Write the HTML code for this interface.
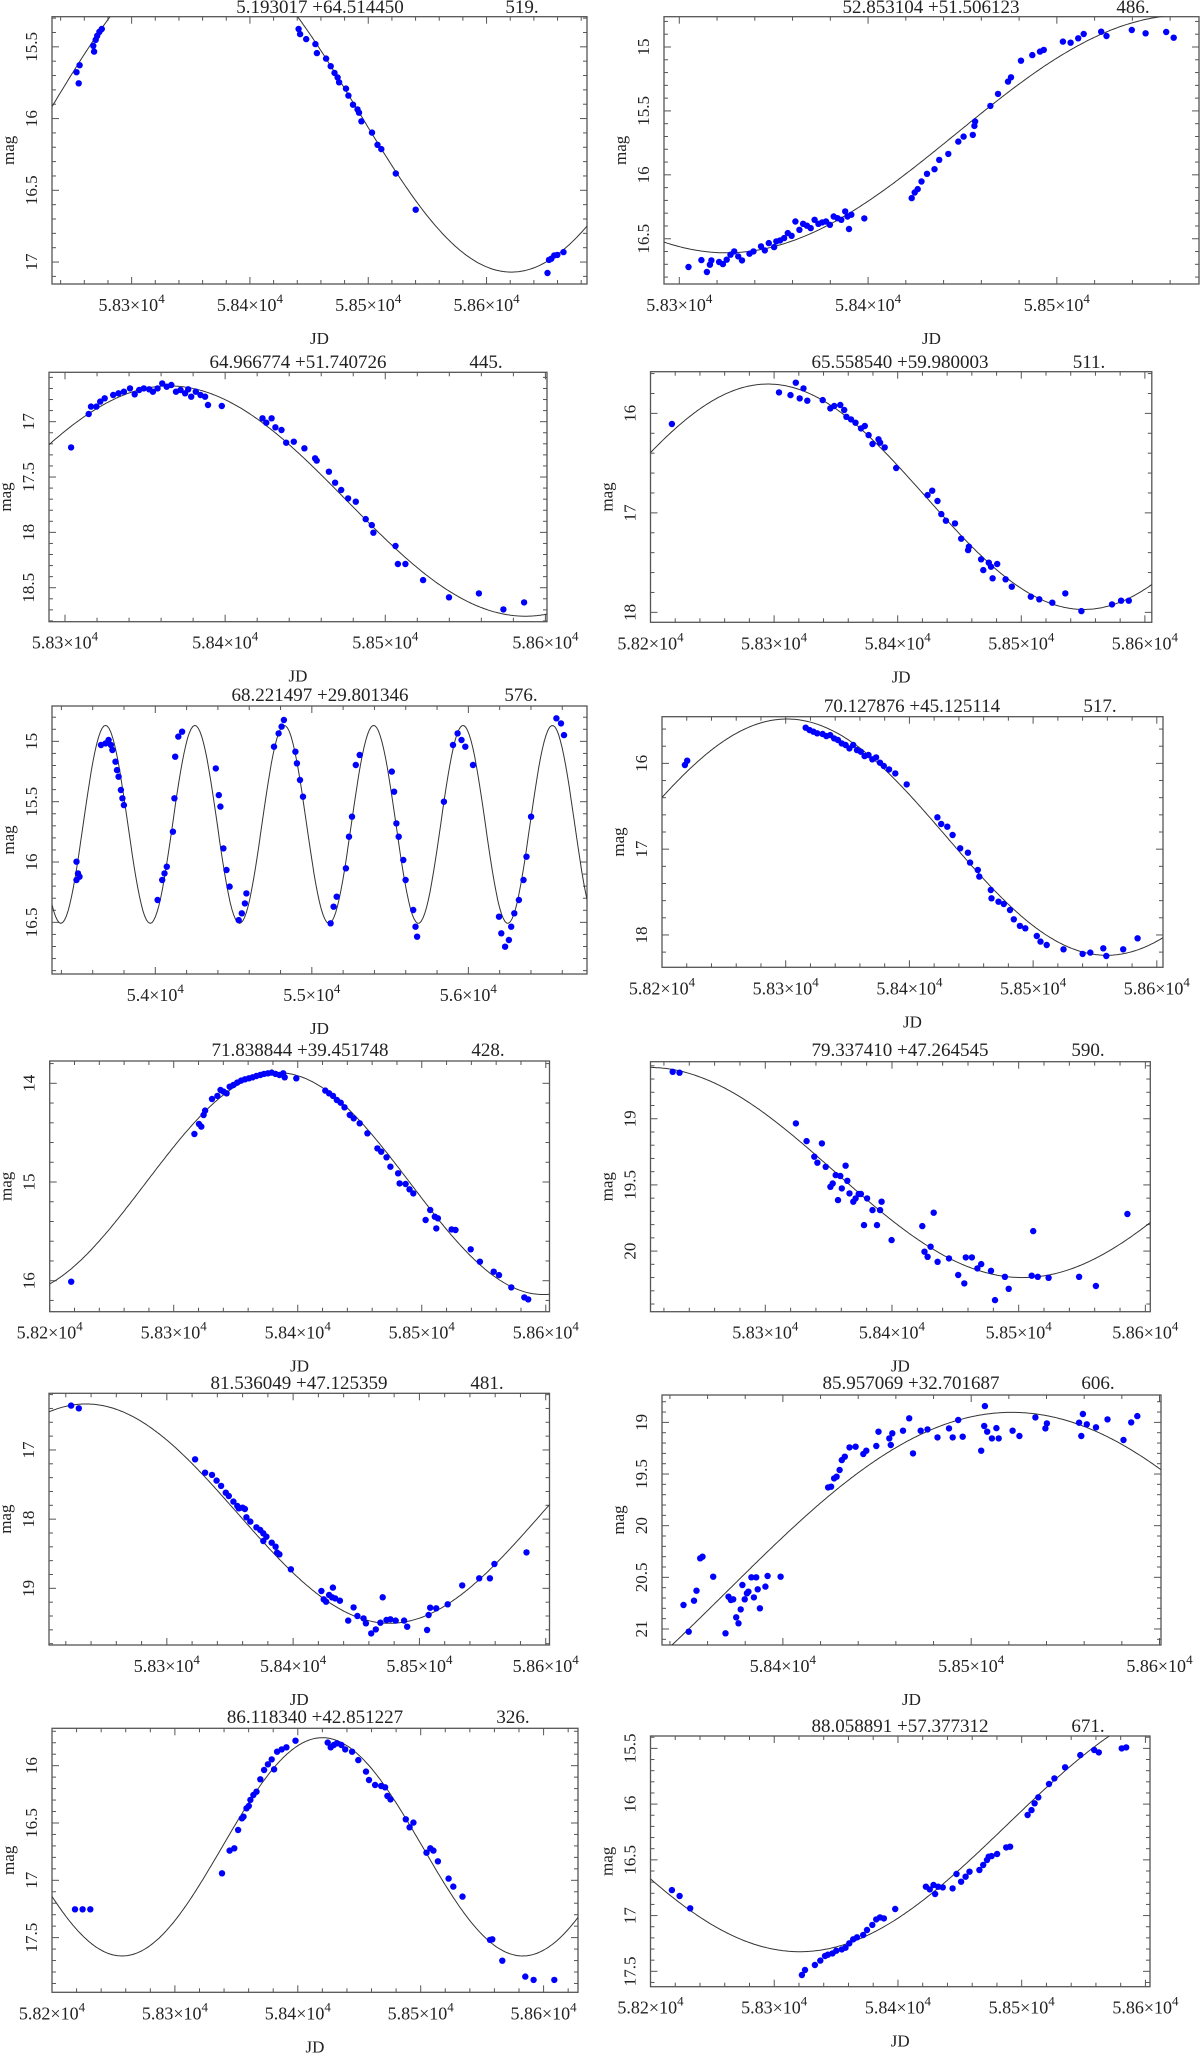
<!DOCTYPE html>
<html><head><meta charset="utf-8"><title>Light curves</title>
<style>
html,body{margin:0;padding:0;background:#fff;}
svg{display:block;font-family:"Liberation Serif","DejaVu Serif",serif;}
</style></head>
<body>
<svg id="chart" width="1200" height="2055" viewBox="0 0 1200 2055" xmlns="http://www.w3.org/2000/svg"></svg>
<script>
// ---- data (JD, mag) per panel ----
const p1jd=[58253.4,58256,58255.3,58267.6,58268.3,58269.6,58270.9,58272.8,58274.8,58441.1,58442.4,58447.6,58455.3,58456.6,58464.4,58468.3,58471.5,58474.1,58475.4,58481.2,58483.2,58487.1,58490.9,58492.2,58494.2,58503.2,58507.8,58511,58523.3,58540.1,58651.5,58652.8,58654.7,58657.3,58659.9,58665];
const p1mag=[15.677,15.628,15.754,15.493,15.533,15.451,15.423,15.395,15.376,15.376,15.411,15.446,15.481,15.544,15.582,15.635,15.682,15.714,15.747,15.791,15.840,15.903,15.936,15.959,16.019,16.098,16.183,16.213,16.383,16.635,17.076,16.985,16.977,16.954,16.95,16.931];
const p2jd=[58304.9,58311.7,58314.6,58316.2,58317,58321.1,58323.1,58325.1,58327.1,58329.1,58331.2,58333.2,58337.2,58339.3,58343.3,58345.3,58347.4,58350.2,58351.4,58353.4,58355.5,58357.5,58359.5,58361.5,58363.6,58365.6,58367.6,58369.6,58371.7,58373.7,58375.7,58377.7,58379.8,58381.8,58383.8,58385.8,58387.9,58389.1,58389.9,58391.1,58398,58423.1,58424.7,58426.3,58428.3,58431.2,58435.2,58437.7,58442.5,58447.8,58450.6,58455.5,58456.3,58456.7,58464.8,58468.8,58474.1,58475.7,58481,58487,58491.1,58493.1,58503.2,58507.3,58511.3,58514.2,58523.5,58526.3,58539.7,58547,58557.9,58561.9];
const p2mag=[16.721,16.667,16.76,16.703,16.669,16.682,16.698,16.664,16.625,16.599,16.638,16.669,16.617,16.599,16.56,16.591,16.534,16.565,16.521,16.513,16.495,16.456,16.477,16.365,16.43,16.383,16.398,16.417,16.352,16.383,16.372,16.365,16.391,16.326,16.339,16.352,16.286,16.326,16.424,16.312,16.341,16.182,16.138,16.112,16.052,15.992,15.956,15.883,15.836,15.74,15.701,15.688,15.617,15.583,15.461,15.367,15.271,15.237,15.107,15.063,15.036,15.023,14.958,14.966,14.932,14.898,14.88,14.914,14.867,14.893,14.883,14.927];
const p3jd=[58303.8,58314.8,58316.2,58319.6,58322,58324.8,58330.1,58333.4,58336.8,58340.6,58343.5,58346.3,58349.2,58352.6,58354.9,58357.8,58360.7,58363.5,58366.4,58369.3,58372.1,58375,58376.9,58378.8,58381.7,58384.6,58387.5,58389.3,58397.9,58423.3,58425.7,58429,58431.4,58435.2,58438.1,58442.9,58449.5,58456.2,58457.2,58464.8,58468.7,58472.5,58476.8,58481.6,58487.8,58491.6,58492.6,58506.4,58507.9,58512.6,58523.6,58539.8,58558.5,58573.8,58586.7];
const p3mag=[17.232,16.931,16.864,16.864,16.819,16.789,16.759,16.744,16.729,16.699,16.753,16.714,16.699,16.708,16.729,16.699,16.654,16.684,16.669,16.729,16.714,16.744,16.708,16.774,16.729,16.759,16.774,16.849,16.858,16.97,17.009,16.97,17.051,17.075,17.19,17.181,17.241,17.331,17.352,17.452,17.551,17.617,17.693,17.723,17.88,17.934,18.003,18.123,18.286,18.286,18.431,18.587,18.551,18.696,18.633];
const p4jd=[58217.3,58304,58313.3,58317.6,58320.7,58323.8,58326.9,58339.3,58345.5,58348.6,58353.6,58356.7,58358.5,58362.2,58365.9,58370.3,58373.4,58376.5,58379.6,58384.5,58385.8,58389.5,58398.8,58424.1,58427.9,58432.2,58435.3,58439,58446.4,58451.4,58457,58457.6,58467.5,58469.3,58473.7,58475.5,58480.5,58476.8,58487.3,58492.3,58507.7,58514.6,58525.1,58535.6,58548.6,58573.4,58580.8,58587];
const p4mag=[16.107,15.789,15.816,15.692,15.849,15.749,15.873,15.866,15.95,15.926,15.916,15.966,16.034,16.06,16.094,16.151,16.127,16.218,16.308,16.261,16.295,16.342,16.549,16.821,16.777,16.881,17.012,17.079,17.106,17.26,17.374,17.34,17.467,17.575,17.501,17.541,17.514,17.658,17.668,17.742,17.843,17.869,17.903,17.809,17.987,17.92,17.883,17.883];
const p5jd=[53496.3,53506,53515.9,53496.3,53652.8,53682.2,53701.7,53716.4,53726.2,53745.7,53755.5,53765.3,53780,53789.7,53799.5,54014.7,54044,54058.7,54073.4,54112.5,54122.3,54127.2,54146.7,54171.2,54386.3,54405.9,54415.7,54435.2,54454.8,54474.4,54533,54552.6,54572.2,54582,54758,54787.4,54806.9,54821.6,54894.9,54904.7,54924.2,54943.8,55119.8,55139.4,55158.9,55217.6,55237.2,55256.7,55281.2,55305.6,55511,55525.7,55540.3,55555,55584.4,55599,55647.9,55662.6,55672.4,55843.5,55902.2,55931.6,55956,55980.5,56029.4,56195.6,56210.3,56234.7,56259.2,56273.9,56293.4,56322.8,56352.1,56371.7,56401,56562.4,56591.7,56611.3];
const p5mag=[16.149,16.094,16.122,15.997,15.03,15.017,14.989,15.03,15.072,15.169,15.238,15.293,15.403,15.472,15.528,16.315,16.149,16.094,16.039,15.749,15.472,15.127,14.961,14.92,15.224,15.445,15.541,15.887,16.066,16.204,16.481,16.425,16.343,16.26,15.044,14.934,14.878,14.823,15.086,15.182,15.32,15.459,16.508,16.37,16.287,16.052,15.79,15.624,15.196,15.113,15.251,15.417,15.68,15.79,15.983,16.149,16.398,16.536,16.619,15.5,15.03,14.934,14.989,15.044,15.196,16.453,16.591,16.702,16.646,16.536,16.425,16.315,16.149,15.956,15.624,14.809,14.851,14.948];
const p6jd=[58218.5,58220.4,58316.2,58319.3,58322.4,58325.5,58329.8,58332.9,58336,58339.1,58342.2,58345.3,58348.4,58351.5,58354.6,58357.6,58360.7,58363.8,58366.9,58370,58373.1,58376.2,58379.3,58383.6,58388.6,58397.8,58422.6,58425.7,58430.6,58434.9,58441.1,58447.3,58449.1,58455.3,58456.5,58465.8,58466.4,58472,58476.3,58481.3,58484.4,58489.3,58493.7,58503,58506,58511,58524.6,58540,58546.2,58556.7,58559.2,58572.8,58584.5];
const p6mag=[16.019,15.969,15.584,15.612,15.631,15.65,15.658,15.682,15.67,15.709,15.728,15.767,15.786,15.825,15.786,15.845,15.864,15.915,15.903,15.953,15.93,15.992,16.031,16.07,16.117,16.245,16.629,16.707,16.738,16.835,16.99,17.041,17.157,17.243,17.32,17.476,17.573,17.612,17.639,17.709,17.817,17.895,17.922,18.012,18.078,18.117,18.167,18.221,18.206,18.155,18.245,18.167,18.039];
const p7jd=[58217.3,58316.7,58320.4,58322.2,58324.1,58325.3,58330.9,58335.2,58337.7,58340.1,58342.6,58345.1,58348.1,58351.2,58354.3,58357.4,58360.5,58363.6,58366.7,58369.8,58372.8,58375.9,58379,58382.1,58385.2,58388.3,58389.5,58398.8,58422.2,58425.3,58428.4,58431.5,58434.6,58437.7,58442,58445.1,58450,58456.2,58464.2,58467.3,58471.6,58474.7,58480.9,58482.1,58487,58490.1,58493.2,58503.1,58506.8,58510.5,58513,58511.7,58524.1,58527.2,58539.5,58546.9,58558,58562.3,58572.2,58582.7,58585.8];
const p7mag=[16.01,14.514,14.412,14.439,14.321,14.277,14.159,14.128,14.068,14.084,14.101,14.034,14.017,13.993,13.973,13.959,13.949,13.939,13.926,13.916,13.905,13.899,13.892,13.905,13.916,13.899,13.939,13.949,14.074,14.101,14.128,14.169,14.196,14.243,14.321,14.355,14.405,14.507,14.659,14.693,14.75,14.845,14.912,15.014,15.02,15.074,15.115,15.385,15.284,15.351,15.368,15.47,15.48,15.486,15.682,15.807,15.909,15.943,16.068,16.169,16.189];
const p8jd=[58226.9,58232.3,58324.2,58332.6,58338.7,58341.1,58344.7,58347.7,58351.4,58353.2,58355.6,58357.4,58359.2,58360.4,58363.4,58364.7,58366.5,58369.5,58371.3,58373.7,58375.5,58377.9,58380.4,58384.6,58388.2,58390.6,58391.8,58399.7,58423.9,58425.7,58428.1,58430.5,58432.9,58436,58445,58452.3,58457.1,58458.3,58463.1,58467.4,58470.4,58478.2,58481.3,58489.1,58492.1,58510.3,58511.5,58515.1,58523.6,58547.7,58561,58585.8];
const p8mag=[18.645,18.652,19.035,19.169,19.287,19.332,19.186,19.363,19.514,19.489,19.426,19.615,19.433,19.526,19.355,19.469,19.564,19.627,19.602,19.569,19.569,19.804,19.602,19.69,19.804,19.69,19.627,19.917,19.811,20.005,20.043,19.967,19.71,20.081,20.055,20.181,20.244,20.048,20.048,20.131,20.098,20.149,20.37,20.194,20.285,20.186,19.849,20.194,20.202,20.194,20.264,19.72];
const p9jd=[58224.2,58230.3,58322.4,58330.3,58335.8,58339.4,58343,58346.7,58349.1,58352.7,58355.8,58357,58360,58361.8,58363,58366.1,58370.9,58373.9,58376.4,58378.8,58376.4,58383,58386.1,58387.3,58389.1,58398.2,58422.4,58424.2,58426.1,58428.5,58430.9,58431.5,58433.3,58437,58443.6,58447.9,58450.9,58455.8,58457.6,58461.8,58465.5,58469.1,58470.9,58473.9,58477,58481.2,58487.9,58490.3,58506.1,58507.3,58508.5,58513.3,58522.4,58533.9,58547.3,58555.8,58559.4,58584.8];
const p9mag=[16.359,16.398,17.135,17.328,17.361,17.443,17.52,17.617,17.665,17.747,17.81,17.843,17.834,17.853,17.973,18.036,18.118,18.157,18.205,18.253,18.316,18.34,18.398,18.484,18.508,18.725,19.039,19.159,19.193,19.096,19.13,18.99,19.145,19.178,19.467,19.275,19.4,19.434,19.506,19.651,19.593,19.496,19.13,19.458,19.448,19.467,19.467,19.554,19.602,19.386,19.28,19.289,19.231,18.957,18.855,18.855,18.648,18.48];
const p10jd=[58347.2,58350,58352.8,58354.1,58356.1,58357.3,58363,58369.5,58371.1,58372.4,58373.6,58375.2,58376.4,58377.6,58378.5,58379.7,58380.9,58381.7,58383.3,58384.6,58385.8,58386.6,58387.8,58390.7,58391.9,58398.8,58424,58425.6,58427.2,58428.5,58430.1,58431.3,58432.9,58435.4,58438.6,58442.7,58444.3,58449.6,58450.8,58456.5,58457.3,58458.1,58463.8,58467.1,58469.1,58473.2,58476.8,58482.1,58488.2,58490.2,58493.1,58495.5,58505.3,58507.3,58506.9,58508.5,58511,58513.4,58514.6,58522,58525.6,58534.1,58539.4,58540.2,58557.3,58558.5,58559.3,58561.4,58566.3,58572.4,58580.9,58585,58588.2];
const p10mag=[20.768,21.026,20.726,20.629,20.316,20.3,20.494,21.042,20.687,20.719,20.713,20.887,20.945,20.81,20.574,20.713,20.655,20.639,20.5,20.694,20.5,20.616,20.8,20.59,20.487,20.494,19.629,19.623,19.542,19.526,19.461,19.365,19.332,19.242,19.235,19.306,19.274,19.229,19.09,19.155,19.219,19.106,19.081,18.961,19.3,19.081,19.068,19.145,19.058,19.145,18.977,19.139,19.274,18.842,19.035,19.09,19.155,19.055,19.155,19.081,19.132,18.952,19.058,19.01,19.003,19.132,18.919,19.019,19.048,18.971,19.171,19,18.939];
const p11jd=[58218.7,58224.9,58231.2,58338.3,58344.5,58348.3,58351.4,58354.5,58355.8,58358.3,58360.1,58361.4,58363.9,58366.4,58369.5,58372.6,58375.7,58378.8,58380.7,58383.2,58386.9,58390.7,58398.1,58424.3,58426.8,58429.3,58431.8,58435.5,58438.6,58444.2,58449.2,58455.5,58457.9,58462.9,58467.9,58471,58472.9,58475.4,58487.9,58491,58494.1,58504.7,58507.8,58510.3,58514,58522.7,58526.5,58534,58556.4,58558.3,58566.4,58585.1,58591.9,58608.7];
const p11mag=[17.253,17.253,17.253,16.939,16.741,16.721,16.561,16.459,16.445,16.372,16.352,16.299,16.256,16.227,16.119,16.038,15.988,15.945,16.032,15.878,15.858,15.84,15.782,15.799,15.84,15.82,15.805,15.82,15.858,15.878,15.951,16.052,16.125,16.169,16.177,16.189,16.265,16.294,16.468,16.538,16.497,16.759,16.721,16.741,16.834,16.985,17.055,17.142,17.52,17.515,17.701,17.84,17.869,17.869];
const p12jd=[58217.3,58223.5,58232.1,58322.4,58324.9,58332.9,58337.2,58341,58343.4,58347.1,58350.2,58354.6,58357.6,58360.7,58363.8,58366.9,58371.9,58375,58379.3,58382.4,58385.5,58388.6,58397.8,58422.6,58425.7,58428.7,58430,58432.5,58436.2,58444.2,58447.3,58451,58454.7,58457.8,58465.8,58468.9,58472,58473.3,58475.7,58480.1,58487.5,58490.6,58504.8,58507.9,58510.4,58513.4,58522.1,58526.4,58535.1,58547.4,58558.6,58562.3,58580.8,58584.5];
const p12mag=[16.771,16.824,16.935,17.533,17.488,17.443,17.404,17.363,17.351,17.339,17.315,17.303,17.288,17.249,17.213,17.195,17.174,17.129,17.084,17.034,17.016,17.025,16.941,16.741,16.765,16.726,16.806,16.741,16.747,16.756,16.627,16.696,16.651,16.606,16.591,16.546,16.501,16.472,16.466,16.448,16.388,16.382,16.098,16.054,15.993,15.939,15.82,15.769,15.67,15.56,15.515,15.536,15.5,15.491];

// titles and periods
const titles=["5.193017  +64.514450","52.853104  +51.506123","64.966774  +51.740726","65.558540  +59.980003","68.221497  +29.801346","70.127876  +45.125114","71.838844  +39.451748","79.337410  +47.264545","81.536049  +47.125359","85.957069  +32.701687","86.118340  +42.851227","88.058891  +57.377312"];
const periodLabels=["519.","486.","445.","511.","576.","517.","428.","590.","481.","606.","326.","671."];
// fitted sinusoid: mag = m0 - amp*cos(2pi(t - tPeak)/period)
const fitPeak=[58361,58568,58365,58295,53682,58301,58384,58208,58236,58521.5,58420,58656.1];
const fitPeriod=[520,486,445,511,571,517,428,590,481,606,326,671];
const fitMean=[15.94,15.68,17.717,16.838,15.688,16.86,15.016,19.406,17.92,20.642,16.708,16.184];
const fitAmp=[1.13,0.93,1.04,1.133,0.82,1.377,1.124,0.794,1.585,1.739,0.952,1.14];
// axis domains
const xMin=[58232.7,58291.9,58290,58200,53340,58200,58200,58209.4,58206.7,58335.8,58200,58200];
const xMax=[58684.9,58575.3,58601,58605.6,56758,58605,58603,58603.9,58603,58600.8,58628,58603.7];
const yTop=[15.29,14.763,16.554,15.581,14.707,15.456,13.774,18.569,16.181,18.735,15.674,15.389];
const yBottom=[17.153,16.854,18.807,18.1,16.928,18.377,16.314,20.458,19.819,21.155,17.977,17.638];
const xMajor=[100,100,100,100,1000,100,100,100,100,100,100,100];
const yMajor=[0.5,0.5,0.5,1,0.5,1,1,0.5,1,0.5,0.5,0.5];

const allJD=[p1jd,p2jd,p3jd,p4jd,p5jd,p6jd,p7jd,p8jd,p9jd,p10jd,p11jd,p12jd];
const allMag=[p1mag,p2mag,p3mag,p4mag,p5mag,p6mag,p7mag,p8mag,p9mag,p10mag,p11mag,p12mag];

// layout (pixels)
const frames=[[52,16.7,587,284],[664,16.7,1199,284],[49,372.3,547,621.7],[650.5,371.7,1151.8,622.3],[52,706,587,974],[662,716.7,1163,967.3],[49.7,1061,549.5,1311.7],[650.5,1061.7,1150.3,1311.7],[49,1393.3,549.5,1645],[662,1395,1161,1645],[52,1728.3,578,1992.3],[650.5,1736,1150,1986.7]];
const titleLayout=[[320,522,13],[931,1133,13],[298,486,368],[900,1089,368],[320,521,701],[912,1100,712],[300,488,1056],[900,1088,1056],[299,487,1389],[911,1098,1389],[315,513,1723],[900,1088,1732]];

const NS="http://www.w3.org/2000/svg";
const svg=document.getElementById('chart');
function mk(tag,attrs,parent){const e=document.createElementNS(NS,tag);for(const k in attrs)e.setAttribute(k,attrs[k]);(parent||svg).appendChild(e);return e;}
function fmtY(v){let s=(Math.round(v*10)/10).toString();return s;}

for(let i=0;i<12;i++){
  const [x0,y0,x1,y1]=frames[i];
  const sx=t=>x0+(t-xMin[i])/(xMax[i]-xMin[i])*(x1-x0);
  const sy=m=>y0+(m-yTop[i])/(yBottom[i]-yTop[i])*(y1-y0);
  const g=mk('g',{});
  
  
  const clip=mk('clipPath',{id:'c'+i},g);
  mk('rect',{x:x0,y:y0,width:x1-x0,height:y1-y0},clip);
  // title
  const tt=mk('text',{x:titleLayout[i][0],y:titleLayout[i][2],'text-anchor':'middle','font-size':19,fill:'#222'},g);
  
  
  tt.setAttribute('xml:space','preserve');
  tt.textContent=titles[i];
  const pt=mk('text',{x:titleLayout[i][1],y:titleLayout[i][2],'text-anchor':'middle','font-size':19,fill:'#222'},g);
  
  
  pt.textContent=periodLabels[i];
  // x ticks
  const xm=xMajor[i], xn=xm/5;
  const tg=mk('g',{stroke:'#555','stroke-width':1},g);
  
  
  for(let t=Math.ceil(xMin[i]/xn)*xn;t<=xMax[i]+1e-6;t+=xn){
    const major=Math.abs(t/xm-Math.round(t/xm))<1e-6; const L=major?7:4; const X=sx(t);
    mk('line',{x1:X,y1:y1,x2:X,y2:y1-L},tg); mk('line',{x1:X,y1:y0,x2:X,y2:y0+L},tg);
    if(major){
      const lb=mk('text',{x:X,y:y1+27,'text-anchor':'middle','font-size':18,fill:'#222',stroke:'none'},g);
      
      
      const mant=(Math.round(t/10)/1000).toString();
      lb.textContent=mant+'\u00d710';
      const sp=mk('tspan',{dy:-8,'font-size':13},lb); sp.textContent='4';
    }
  }
  const ym=yMajor[i], yn=ym/5;
  for(let k=Math.ceil(yTop[i]/yn-1e-6);k*yn<=yBottom[i]+1e-6;k++){
    const m=k*yn; const major=Math.abs(m/ym-Math.round(m/ym))<1e-6; const L=major?7:4; const Y=sy(m);
    mk('line',{x1:x0,y1:Y,x2:x0+L,y2:Y},tg); mk('line',{x1:x1,y1:Y,x2:x1-L,y2:Y},tg);
    if(major){
      const lb=mk('text',{x:0,y:0,'text-anchor':'middle','font-size':17,fill:'#222',transform:'translate('+(x0-15)+','+Y+') rotate(-90)'},g);
      
      
      lb.textContent=fmtY(m);
    }
  }
  // frame
  const fr=mk('rect',{x:x0,y:y0,width:x1-x0,height:y1-y0,fill:'none',stroke:'#555','stroke-width':1.3},g);
  
  
  // axis titles
  const xl=mk('text',{x:(x0+x1)/2,y:y1+60,'text-anchor':'middle','font-size':17,fill:'#222'},g);
  
  
  xl.textContent='JD';
  const yl=mk('text',{x:0,y:0,'text-anchor':'middle','font-size':17,fill:'#222',transform:'translate('+(x0-38)+','+((y0+y1)/2)+') rotate(-90)'},g);
  
  
  yl.textContent='mag';
  // fit curve
  let d='';
  const N=300;
  for(let s=0;s<=N;s++){
    const t=xMin[i]+(xMax[i]-xMin[i])*s/N;
    const m=fitMean[i]-fitAmp[i]*Math.cos(2*Math.PI*(t-fitPeak[i])/fitPeriod[i]);
    d+=(s?'L':'M')+sx(t).toFixed(1)+','+sy(m).toFixed(1);
  }
  const cv=mk('path',{d:d,fill:'none',stroke:'#333','stroke-width':1,'clip-path':'url(#c'+i+')'},g);
  
  
  // points
  const pg=mk('g',{fill:'#0000ff','clip-path':'url(#c'+i+')'},g);
  
  
  const jd=allJD[i], mg=allMag[i];
  for(let j=0;j<jd.length;j++){
    const c=mk('circle',{cx:sx(jd[j]).toFixed(1),cy:sy(mg[j]).toFixed(1),r:3.2},pg);
    
    
  }
}
</script>
</body></html>
